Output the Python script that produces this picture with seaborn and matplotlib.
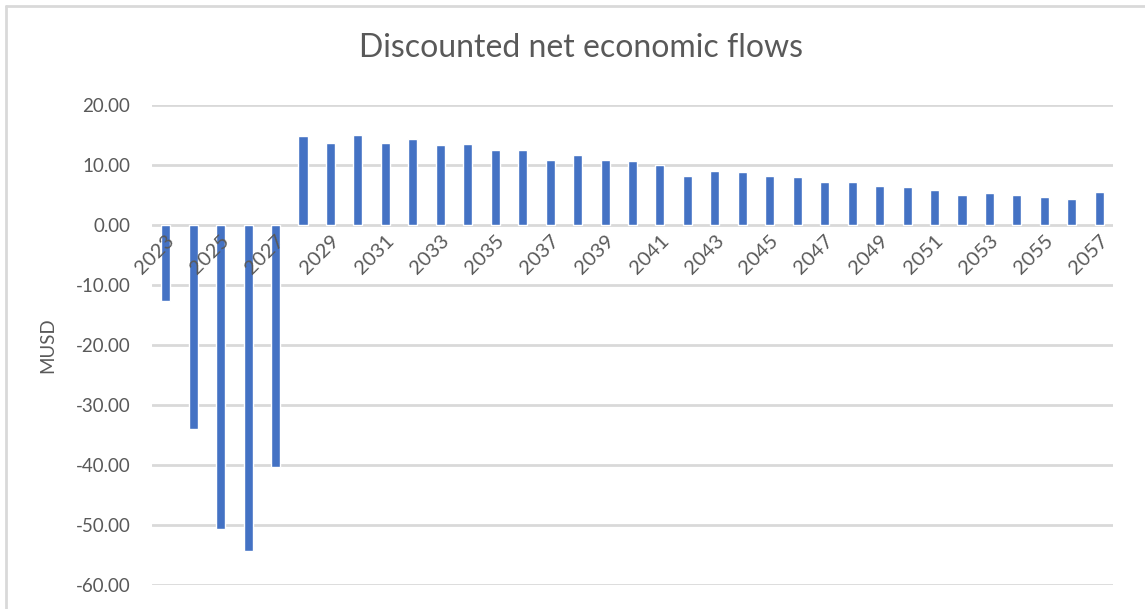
import matplotlib
matplotlib.use("Agg")
import matplotlib.pyplot as plt
import seaborn as sns
import pandas as pd
from matplotlib.lines import Line2D

years = list(range(2023, 2058))
flows = [-12.6, -34.0, -50.7, -54.4, -40.4,
         14.8, 13.7, 15.0, 13.7, 14.3, 13.3, 13.5, 12.5, 12.5, 10.8,
         11.7, 10.8, 10.6, 10.0, 8.2, 9.0, 8.8, 8.2, 8.0, 7.2,
         7.2, 6.5, 6.3, 5.9, 5.05, 5.3, 5.05, 4.7, 4.4, 5.5]
y_ticks = [20, 10, 0, -10, -20, -30, -40, -50, -60]
title = "Discounted net economic flows"
y_label = "MUSD"

df = pd.DataFrame({"year": [str(y) for y in years], "flow": flows})

sns.set_theme(style="white")
plt.rcParams["font.family"] = ["Lato", "DejaVu Sans"]

text_color = "#595959"
grid_color = "#d9d9d9"
bar_color = "#4472C4"

fig = plt.figure(figsize=(11.45, 6.09), dpi=100)
ax = fig.add_axes([152 / 1145, 1 - 585 / 609, (1113 - 152) / 1145, (585 - 105) / 609])

sns.barplot(data=df, x="year", y="flow", color=bar_color, width=0.33,
            saturation=1, ax=ax, zorder=3)

ax.set_ylim(-60, 20)
ax.set_xlim(-0.5, len(years) - 0.5)
ax.set_yticks(y_ticks)
ax.set_yticklabels([f"{v:.2f}" for v in y_ticks], color=text_color, fontsize=13.5)
ax.tick_params(axis="y", length=0, pad=15.5)

for v in y_ticks:
    ax.axhline(v, color=grid_color, lw=2, zorder=1)

for s in ["top", "right", "left"]:
    ax.spines[s].set_visible(False)
ax.spines["bottom"].set_position(("data", 0))
ax.spines["bottom"].set_visible(False)

ax.set_xticks(range(0, len(years), 2))
ax.set_xticklabels([str(y) for y in years[::2]], rotation=45, ha="right",
                   rotation_mode="anchor", color=text_color, fontsize=14.5)
ax.tick_params(axis="x", length=0, pad=5)
ax.xaxis.set_zorder(5)

ax.set_xlabel("")
ax.set_ylabel("")
fig.text(48 / 1145, 1 - 345 / 609, y_label, rotation=90, ha="center", va="center",
         color=text_color, fontsize=13.5)
fig.text(581 / 1145, 1 - 48 / 609, title, ha="center", va="center",
         color=text_color, fontsize=23)

# chart area border (top and left visible)
fig.add_artist(Line2D([6 / 1145, 1], [1 - 6 / 609, 1 - 6 / 609], color=grid_color, lw=2,
                      transform=fig.transFigure))
fig.add_artist(Line2D([6 / 1145, 6 / 1145], [0, 1 - 6 / 609], color=grid_color, lw=2,
                      transform=fig.transFigure))

fig.savefig("out.png", dpi=100, facecolor="white")
